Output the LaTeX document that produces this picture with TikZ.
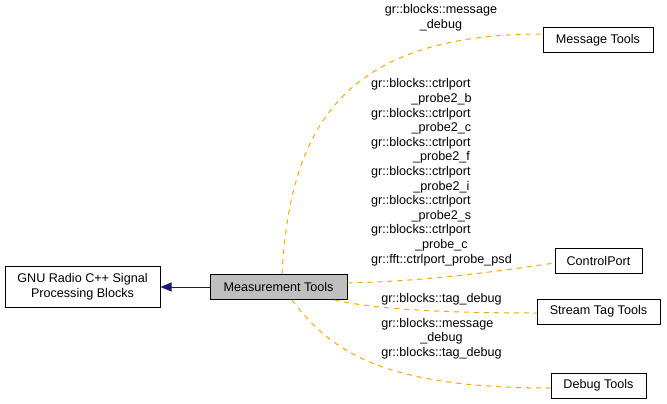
\documentclass[tikz,border=0pt]{standalone}
\usepackage{fontspec}
\setmainfont{Liberation Sans}
\usepackage{tikz}
\usetikzlibrary{arrows.meta}

\definecolor{edgeorange}{HTML}{FFA500}
\definecolor{edgenavy}{HTML}{191970}
\definecolor{boxgray}{HTML}{BFBFBF}
\newcommand{\cont}[1]{\multicolumn{1}{@{}c@{}}{#1}}

\begin{document}
\begin{tikzpicture}[x=1pt,y=-1pt]
      \tikzstyle{every node}=[font=\fontsize{12.6}{14.6}\selectfont,inner sep=0pt]
      \tikzstyle{grp}=[draw,line width=1pt,rectangle,align=center]
      \tikzstyle{member}=[dashed,dash pattern=on 5pt off 5pt,edgeorange,line width=1pt]
      \useasboundingbox (0,0) rectangle (667,404);

      \node[grp,minimum width=155pt,minimum height=41pt] (grc) at (82.5,287) {GNU Radio C++ Signal\\Processing Blocks};
      \node[grp,fill=boxgray,minimum width=137pt,minimum height=25pt] (meas) at (278.5,287) {Measurement Tools};

      \node[grp,minimum width=110pt,minimum height=25pt] (msg) at (598,40.5) {Message Tools};
      \node[grp,minimum width=87pt,minimum height=25pt] (cport) at (598.5,260.5) {ControlPort};
      \node[grp,minimum width=123pt,minimum height=25pt] (stag) at (598.5,311.5) {Stream Tag Tools};
      \node[grp,minimum width=95pt,minimum height=25pt] (dbg) at (598.5,385.5) {Debug Tools};

      \node[align=center] (l0) at (441,18) {gr::blocks::message\\\_debug};
      \node (l1) at (441.5,172.5) {\begin{tabular}{@{}l@{}}
        gr::blocks::ctrlport\\ \cont{\_probe2\_b}\\
        gr::blocks::ctrlport\\ \cont{\_probe2\_c}\\
        gr::blocks::ctrlport\\ \cont{\_probe2\_f}\\
        gr::blocks::ctrlport\\ \cont{\_probe2\_i}\\
        gr::blocks::ctrlport\\ \cont{\_probe2\_s}\\
        gr::blocks::ctrlport\\ \cont{\_probe\_c}\\
        gr::fft::ctrlport\_probe\_psd
      \end{tabular}};
      \node (l2) at (441.5,299) {gr::blocks::tag\_debug};
      \node (l3) at (441.5,339) {\begin{tabular}{@{}l@{}}
        gr::blocks::message\\ \cont{\_debug}\\
        gr::blocks::tag\_debug
      \end{tabular}};

      \draw[edgenavy,line width=1pt,-{Triangle[length=11pt,width=9pt]}] (meas.west) -- (grc.east);

      \draw[member] (meas.north) ++(3.5,0) .. controls (290,130) and (340,34) .. (msg.west |- 0,34);
      \draw[member] (meas.east |- 0,283) .. controls (430,281) and (500,271) .. (cport.west |- 0,263);
      \draw[member] (meas.south east) ++(-13,0) .. controls (370,308) and (430,313) .. (stag.west |- 0,313);
      \draw[member] (meas.south) ++(13.5,0) .. controls (330,350) and (380,388) .. (dbg.west |- 0,388);
    \end{tikzpicture}
\end{document}
